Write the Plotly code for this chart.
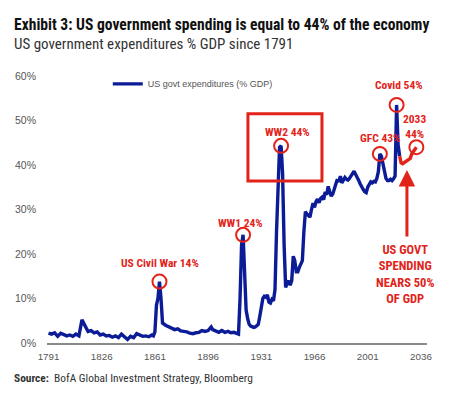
import plotly.graph_objects as go

# ---- data ----
years = [1791, 1793, 1795, 1797, 1799, 1801, 1803, 1805, 1807, 1809, 1811, 1813, 1815, 1817,
         1819, 1821, 1823, 1825, 1827, 1829, 1831, 1833, 1835, 1837, 1839, 1841, 1843, 1845,
         1847, 1849, 1851, 1853, 1855, 1857, 1859, 1860, 1861, 1862, 1863, 1864, 1865, 1866,
         1868, 1870, 1872, 1874, 1876, 1878, 1880, 1882, 1884, 1886, 1888, 1890, 1892, 1894,
         1896, 1898, 1899, 1901, 1903, 1905, 1907, 1909, 1911, 1913, 1915, 1916, 1917, 1918,
         1919, 1920, 1921, 1922, 1923, 1924, 1925, 1926, 1927, 1928, 1929, 1930, 1931, 1932,
         1933, 1934, 1935, 1936, 1937, 1938, 1939, 1940, 1941, 1942, 1943, 1944, 1945, 1946,
         1947, 1948, 1949, 1950, 1951, 1952, 1953, 1954, 1955, 1956, 1957, 1958, 1959, 1960,
         1961, 1962, 1963, 1964, 1965, 1966, 1967, 1968, 1969, 1970, 1971, 1972, 1973, 1974,
         1975, 1976, 1977, 1978, 1979, 1980, 1981, 1982, 1983, 1984, 1985, 1986, 1987, 1988,
         1989, 1990, 1991, 1992, 1993, 1994, 1995, 1996, 1997, 1998, 1999, 2000, 2001, 2002,
         2003, 2004, 2005, 2006, 2007, 2008, 2009, 2010, 2011, 2012, 2013, 2014, 2015, 2016,
         2017, 2018, 2019, 2020, 2021, 2022]
spending = [2.2, 2.0, 2.3, 1.5, 2.2, 1.8, 1.6, 1.8, 1.5, 2.0, 1.6, 5.2, 4.0, 2.6,
            2.8, 2.3, 2.5, 1.8, 2.0, 1.6, 1.7, 1.3, 1.6, 1.2, 2.0, 1.4, 0.8, 1.5,
            1.2, 2.1, 1.7, 1.5, 1.6, 1.4, 1.8, 1.6, 2.5, 8.5, 10.0, 13.8, 10.0, 4.5,
            4.0, 3.6, 3.4, 3.0, 3.2, 2.7, 2.6, 2.5, 2.2, 2.1, 2.3, 2.4, 2.8, 2.6,
            2.8, 3.6, 3.0, 2.6, 2.4, 2.8, 2.4, 2.6, 2.3, 2.4, 2.2, 2.0, 10.0, 22.0,
            24.3, 15.0, 7.4, 5.5, 4.2, 3.8, 3.6, 3.5, 3.6, 3.8, 4.2, 6.0, 8.5, 10.0,
            10.5, 10.3, 10.8, 9.2, 9.0, 9.8, 9.5, 12.0, 25.0, 38.0, 44.0, 44.3, 38.0, 22.0,
            12.5, 13.5, 14.0, 13.0, 14.0, 19.5, 18.5, 16.0, 16.0, 17.0, 18.0, 18.5, 25.0, 29.5,
            29.0, 28.5, 28.3, 30.0, 31.4, 30.5, 31.8, 32.3, 31.5, 32.5, 32.8, 32.2, 33.9, 33.3,
            35.2, 34.0, 33.0, 33.5, 34.6, 35.5, 36.8, 36.2, 37.5, 36.0, 36.7, 37.2, 36.8, 36.6,
            37.0, 37.6, 38.3, 38.6, 37.9, 37.0, 36.6, 35.8, 35.0, 34.5, 34.0, 33.8, 35.0, 35.8,
            36.2, 36.0, 36.3, 36.2, 37.0, 38.5, 42.5, 42.0, 40.5, 38.5, 37.0, 36.5, 36.5, 36.8,
            36.5, 36.9, 37.5, 53.5, 44.5, 42.0]

proj_years = [2022, 2023, 2024, 2025, 2026, 2027, 2028, 2029, 2030, 2031, 2032, 2033]
proj_values = [42.0, 40.5, 40.3, 40.5, 40.8, 41.0, 41.2, 41.5, 42.5, 43.0, 43.5, 44.0]

x_ticks = [1791, 1826, 1861, 1896, 1931, 1966, 2001, 2036]
y_ticks = [0, 10, 20, 30, 40, 50, 60]
y_tick_text = [f"{v}%" for v in y_ticks]

# highlighted events: (label, year)
events = [("US Civil War 14%", 1864), ("WW1 24%", 1919), ("WW2 44%", 1944),
          ("GFC 43%", 2009), ("Covid 54%", 2020)]

BLUE = "#0b1c96"
RED = "#e2231a"
GREY = "#555555"
NARROW = "Liberation Sans Narrow, Arial Narrow, Roboto Condensed, Liberation Sans, Arial"
SANS = "Liberation Sans, Arial"


def value_at(y):
    return spending[years.index(y)]


fig = go.Figure()
fig.add_trace(go.Scatter(x=years, y=spending, mode="lines", name="US govt expenditures (% GDP)",
                         line=dict(color=BLUE, width=3.4), showlegend=True))
fig.add_trace(go.Scatter(x=proj_years, y=proj_values, mode="lines", name="projection",
                         line=dict(color=RED, width=3.4), showlegend=False))

# circles around peaks (fixed pixel size, anchored on the data)
circle_pts = [(y, value_at(y)) for _, y in events] + [(proj_years[-1], proj_values[-1])]
for cx, cy in circle_pts:
    fig.add_shape(type="circle", xref="x", yref="y", xsizemode="pixel", ysizemode="pixel",
                  xanchor=cx, yanchor=cy, x0=-7, x1=7, y0=-7, y1=7,
                  line=dict(color=RED, width=2))

# box around WW2
fig.add_shape(type="rect", xref="x", yref="y", x0=1922.2, x1=1970.9, y0=36.4, y1=51.5,
              line=dict(color=RED, width=3))

label_pos = {"US Civil War 14%": (1864.3, 18.0), "WW1 24%": (1917, 27.0),
             "WW2 44%": (1947.9, 47.4), "GFC 43%": (2009.2, 46.1), "Covid 54%": (2021.6, 58.0)}
for lab, _ in events:
    lx, ly = label_pos[lab]
    fig.add_annotation(x=lx, y=ly, xref="x", yref="y", text=f"<b>{lab}</b>", showarrow=False,
                       font=dict(family=NARROW, size=11.5, color=RED))
fig.add_annotation(x=1.003, y=48.7, xref="paper", yref="y", text="<b>2033<br>44%</b>",
                   showarrow=False, font=dict(family=NARROW, size=11.5, color=RED), align="center")

# arrow
fig.add_annotation(x=2026.8, y=38.9, xref="x", yref="y", text="", showarrow=True,
                   ax=0, ay=68, axref="pixel", ayref="pixel", arrowhead=2, arrowsize=1.1,
                   arrowwidth=3, arrowcolor=RED)
fig.add_annotation(x=2025.5, y=15.6, xref="x", yref="y",
                   text="<b>US GOVT<br>SPENDING<br>NEARS 50%<br>OF GDP</b>", showarrow=False,
                   font=dict(family=NARROW, size=12.5, color=RED), align="center")

# titles and source
fig.add_annotation(xref="paper", yref="paper", x=-0.092, y=1.191, xanchor="left", yanchor="middle",
                   text="<b>Exhibit 3: US government spending is equal to 44% of the economy</b>",
                   showarrow=False, font=dict(family=NARROW, size=15.6, color="#111111"))
fig.add_annotation(xref="paper", yref="paper", x=-0.092, y=1.12, xanchor="left", yanchor="middle",
                   text="US government expenditures % GDP since 1791",
                   showarrow=False, font=dict(family=NARROW, size=15, color="#333333"))
fig.add_annotation(xref="paper", yref="paper", x=-0.092, y=-0.131, xanchor="left", yanchor="middle",
                   text="<b>Source:</b>  BofA Global Investment Strategy, Bloomberg",
                   showarrow=False, font=dict(family=NARROW, size=11.4, color="#333333"))

# the page body adds an 8px offset, so the figure is 8px smaller and shifted accordingly
fig.update_layout(
    width=460, height=390,
    margin=dict(l=39, r=41, t=68, b=55),
    paper_bgcolor="white", plot_bgcolor="white",
    showlegend=True,
    legend=dict(x=0.16, y=1.025, xanchor="left", yanchor="top", bgcolor="rgba(0,0,0,0)",
                font=dict(family=SANS, size=9, color=GREY), itemwidth=30),
    xaxis=dict(range=[1790, 2040], tickvals=x_ticks, showgrid=False, zeroline=False,
               showline=True, linecolor="#8a8a8a", linewidth=1.5, ticks="", automargin=False,
               tickfont=dict(family=SANS, size=9.8, color=GREY), ticklabelstandoff=3),
    yaxis=dict(range=[0, 60], tickvals=y_ticks, ticktext=y_tick_text, showgrid=False,
               zeroline=False, showline=False, ticks="", automargin=False,
               tickfont=dict(family=SANS, size=10.5, color=GREY), ticklabelstandoff=10),
)

fig.write_html("out.html")
